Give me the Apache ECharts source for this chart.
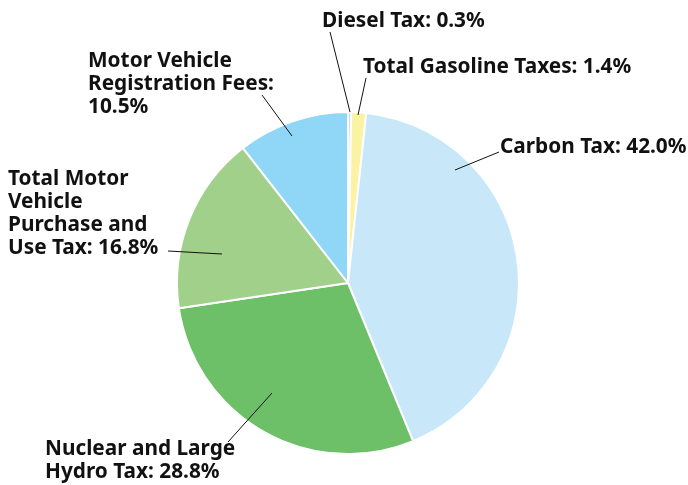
<!DOCTYPE html>
<html lang="en">
<head>
    <meta charset="UTF-8">
    <title>Tax shares</title>
    <style>
        html, body { margin: 0; padding: 0; background: #fff; }
    </style>
</head>
<body>
<div id="main" style="width: 688px;height: 485px;"></div>
<script src="https://cdn.jsdelivr.net/npm/echarts@6/dist/echarts.min.js"></script>
<script>
    // slices, clockwise from 12 o'clock
    var categories = ['Diesel Tax', 'Total Gasoline Taxes', 'Carbon Tax', 'Nuclear and Large\nHydro Tax',
        'Total Motor\nVehicle\nPurchase and\nUse Tax', 'Motor Vehicle\nRegistration Fees:\n'];
    var values = [0.3, 1.4, 42.0, 28.8, 16.8, 10.5];
    var colors = ['#d8d8d8', '#fbf3a4', '#c8e8f9', '#6dbf68', '#a1d08b', '#8fd6f7'];

    // layout of the callouts: label top-left, leader line from (inside slice) to (near label)
    var labelPos = [[322, 10], [363, 56], [500, 136], [45, 438], [8, 168], [88, 50]];
    var leaders = [
        [[350, 112], [330, 32]],
        [[358, 115], [366, 78]],
        [[455, 170], [499, 152]],
        [[272, 393], [228, 442]],
        [[222, 254], [168, 251]],
        [[292, 136], [262, 95]]
    ];

    function labelText (i) {
        var name = categories[i];
        var sep = name.charAt(name.length - 1) === '\n' ? '' : ': ';
        return name + sep + values[i].toFixed(1) + '%';
    }

    var chart = echarts.init(document.getElementById('main'));

    var data = [];
    for (var i = 0; i < values.length; i++) {
        data.push({name: categories[i], value: values[i], itemStyle: {color: colors[i]}});
    }

    var lines = leaders.map(function (l) {
        return {
            type: 'line',
            z: 100,
            shape: {x1: l[0][0], y1: l[0][1], x2: l[1][0], y2: l[1][1]},
            style: {stroke: '#111', lineWidth: 1}
        };
    });

    var option = {
        backgroundColor: '#fff',
        animation: false,
        graphic: lines,
        series: [
            {
                type: 'pie',
                center: [348, 283],
                radius: 171,
                startAngle: 90,
                clockwise: true,
                data: data,
                itemStyle: {borderColor: '#fff', borderWidth: 2},
                label: {
                    show: true,
                    formatter: function (p) {
                        return labelText(p.dataIndex);
                    },
                    fontFamily: 'Noto Sans',
                    fontWeight: 'bold',
                    fontSize: 20.8,
                    lineHeight: 23,
                    color: '#111',
                    align: 'left',
                    overflow: 'none'
                },
                labelLine: {show: false},
                labelLayout: function (p) {
                    var pos = labelPos[p.dataIndex];
                    return {x: pos[0], y: pos[1], align: 'left', verticalAlign: 'top'};
                },
                silent: true
            }
        ]
    };
    chart.setOption(option);
</script>
</body>
</html>
